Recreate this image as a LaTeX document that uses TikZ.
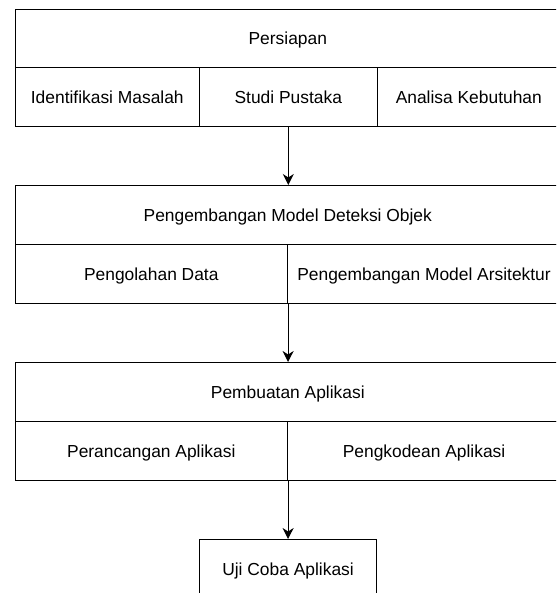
\documentclass[tikz,border=0pt]{standalone}
\usepackage{fontspec}
\setmainfont{Liberation Sans}
\usetikzlibrary{arrows.meta}
\begin{document}
\begin{tikzpicture}[x=1pt,y=1pt,
  box/.style={draw=black, line width=1.1pt, rectangle, inner sep=0pt, anchor=north west,
    text height=12.5pt, text depth=0pt, align=center,
    font=\fontsize{17.4}{20}\selectfont},
  arr/.style={draw=black, line width=1.1pt, -{Stealth[length=11pt,width=11pt,inset=3.5pt]}}]
\path[use as bounding box, clip] (0,0) rectangle (556,-593);
\fill[white] (0,0) rectangle (556,-593);
% Box 1
\node[box, minimum width=545.5pt, minimum height=58.3pt] (p1) at (14.5,-8.7) {Persiapan};
\node[box, minimum width=184.5pt, minimum height=59pt] (p1a) at (14.5,-67) {Identifikasi Masalah};
\node[box, minimum width=177.5pt, minimum height=59pt] (p1b) at (199,-67) {Studi Pustaka};
\node[box, minimum width=183.5pt, minimum height=59pt] (p1c) at (376.5,-67) {Analisa Kebutuhan};
% Box 2
\node[box, minimum width=545.5pt, minimum height=59pt] (p2) at (14.5,-185) {Pengembangan Model Deteksi Objek};
\node[box, minimum width=272.5pt, minimum height=59pt] (p2a) at (14.5,-244) {Pengolahan Data};
\node[box, minimum width=273pt, minimum height=59pt] (p2b) at (287,-244) {Pengembangan Model Arsitektur};
% Box 3
\node[box, minimum width=545.5pt, minimum height=59pt] (p3) at (14.5,-362) {Pembuatan Aplikasi};
\node[box, minimum width=272.5pt, minimum height=59pt] (p3a) at (14.5,-421) {Perancangan Aplikasi};
\node[box, minimum width=273pt, minimum height=59pt] (p3b) at (287,-421) {Pengkodean Aplikasi};
% Box 4
\node[box, minimum width=177pt, minimum height=59pt] (p4) at (199,-539) {Uji Coba Aplikasi};
% Arrows
\draw[arr] (p1b.south) -- (p1b.south |- p2.north);
\draw[arr] (p2a.south east) -- (p2a.south east |- p3.north);
\draw[arr] (p3a.south east) -- (p3a.south east |- p4.north);
\end{tikzpicture}
\end{document}
